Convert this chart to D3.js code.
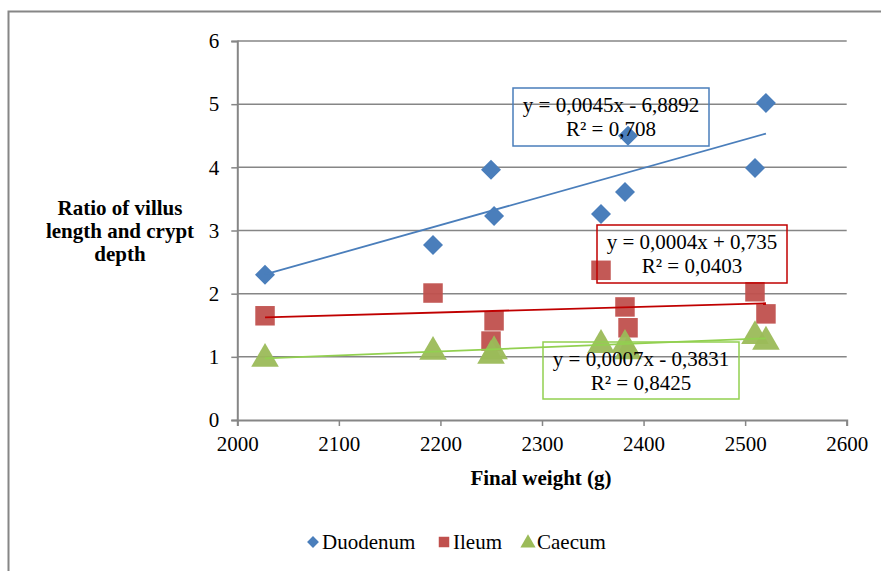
<!DOCTYPE html>
<html><head><meta charset="utf-8">
<script src="https://cdn.jsdelivr.net/npm/d3@7"></script>
<style>body{margin:0;background:#fff}svg{display:block}svg text{font-family:"Liberation Serif","Times New Roman",serif}</style>
</head><body><svg id="c" width="881" height="571"></svg>
<script>
const xTicks = [2000, 2100, 2200, 2300, 2400, 2500, 2600];
const yTicks = [0, 1, 2, 3, 4, 5, 6];
const weights = [2027.3, 2192.7, 2249.8, 2252.8, 2358.1, 2381.7, 2384.7, 2509.7, 2520.5];
const duodenum = [2.30, 2.77, 3.96, 3.23, 3.26, 3.61, 4.50, 3.99, 5.02];
const ileumX = [2027.3, 2192.7, 2252.8, 2249.8, 2358.1, 2381.7, 2384.7, 2509.7, 2520.5];
const ileum = [1.65, 2.01, 1.57, 1.25, 2.37, 1.79, 1.46, 2.03, 1.68];
const caecum = [1.00, 1.11, 1.05, 1.12, 1.22, 1.22, 1.12, 1.36, 1.27];
const seriesNames = ["Duodenum", "Ileum", "Caecum"];
const equations = [["y = 0,0045x - 6,8892", "R² = 0,708"], ["y = 0,0004x + 0,735", "R² = 0,0403"], ["y = 0,0007x - 0,3831", "R² = 0,8425"]];

const FS = 21;
const FF = "'Liberation Serif', 'Times New Roman', serif";
const svg = d3.select("#c");
const x = d3.scaleLinear().domain([2000, 2600]).range([237.3, 846.7]);
const y = d3.scaleLinear().domain([0, 6]).range([420, 41]);

svg.append("rect").attr("x", 8.5).attr("y", 11.5).attr("width", 900).attr("height", 600)
  .attr("fill", "none").attr("stroke", "#868686").attr("stroke-width", 2);

// gridlines
svg.append("g").selectAll("line").data(yTicks.slice(1)).join("line")
  .attr("x1", x(2000)).attr("x2", x(2600)).attr("y1", d => y(d)).attr("y2", d => y(d))
  .attr("stroke", "#868686").attr("stroke-width", 1.5);

const yAxis = svg.append("g").attr("transform", `translate(${x(2000)},0)`)
  .call(d3.axisLeft(y).tickValues(yTicks).tickSize(6).tickPadding(12).tickFormat(d3.format("d")));
const xAxis = svg.append("g").attr("transform", `translate(0,${y(0)})`)
  .call(d3.axisBottom(x).tickValues(xTicks).tickSize(6).tickPadding(10).tickFormat(d3.format("d")));
[yAxis, xAxis].forEach(a => {
  a.attr("font-family", FF).attr("font-size", FS);
  a.select(".domain").attr("stroke", "#868686").attr("stroke-width", 2);
  a.selectAll(".tick line").attr("stroke", "#868686").attr("stroke-width", 1.5);
  a.selectAll("text").style("font-family", FF).attr("font-size", FS).attr("fill", "#000");
});

const cols = ["#4A7EBB", "#C0504D", "#9BBB59"];
const lineCols = ["#4A7EBB", "#C00000", "#92D050"];
const data = [
  weights.map((w, i) => [w, duodenum[i]]),
  ileumX.map((w, i) => [w, ileum[i]]),
  weights.map((w, i) => [w, caecum[i]])
];

function fit(pts) {
  const mx = d3.mean(pts, p => p[0]), my = d3.mean(pts, p => p[1]);
  let sxy = 0, sxx = 0;
  pts.forEach(p => { sxy += (p[0] - mx) * (p[1] - my); sxx += (p[0] - mx) ** 2; });
  const b = sxy / sxx; return [b, my - b * mx];
}

data.forEach((pts, k) => {
  const sym = d3.symbol().type(k === 2 ? d3.symbolTriangle : d3.symbolSquare)
    .size(k === 0 ? 200 : k === 1 ? 380 : 330);
  svg.append("g").selectAll("path").data(pts).join("path")
    .attr("d", sym)
    .attr("transform", d => `translate(${x(d[0])},${y(d[1]) + (k === 2 ? 2 : 0)})${k === 0 ? " rotate(45)" : ""}`)
    .attr("fill", cols[k]).attr("opacity", k === 0 ? 1 : 0.95);
});
data.forEach((pts, k) => {
  const [b, a] = fit(pts);
  const x0 = d3.min(pts, p => p[0]), x1 = d3.max(pts, p => p[0]);
  svg.append("line").attr("x1", x(x0)).attr("x2", x(x1))
    .attr("y1", y(a + b * x0)).attr("y2", y(a + b * x1))
    .attr("stroke", lineCols[k]).attr("stroke-width", 1.8);
});

// equation boxes
const boxes = [[513, 88, 196, 58], [597, 225, 190, 58], [543, 342, 196, 57]];
boxes.forEach((bx, k) => {
  svg.append("rect").attr("x", bx[0]).attr("y", bx[1]).attr("width", bx[2]).attr("height", bx[3])
    .attr("fill", "none").attr("stroke", lineCols[k]).attr("stroke-width", 1.5);
  equations[k].forEach((t, i) => {
    svg.append("text").attr("x", bx[0] + bx[2] / 2).attr("y", bx[1] + 24 + i * 24)
      .attr("text-anchor", "middle").attr("font-size", FS).style("font-family", FF).text(t);
  });
});

// axis titles
const yt = svg.append("text").attr("text-anchor", "middle").attr("font-weight", "bold")
  .attr("font-size", FS).style("font-family", FF);
["Ratio of villus", "length and crypt", "depth"].forEach((t, i) =>
  yt.append("tspan").attr("x", 120).attr("y", 215 + i * 23).text(t));
svg.append("text").attr("x", 541).attr("y", 485).attr("text-anchor", "middle")
  .attr("font-weight", "bold").attr("font-size", FS).style("font-family", FF).text("Final weight (g)");

// legend
const legX = [313, 444, 528];
seriesNames.forEach((n, k) => {
  const s = d3.symbol().type(k === 2 ? d3.symbolTriangle : d3.symbolSquare).size(k === 0 ? 70 : k === 1 ? 110 : 100);
  svg.append("path").attr("d", s).attr("fill", cols[k])
    .attr("transform", `translate(${legX[k]},${542 + (k === 2 ? 1 : 0)})${k === 0 ? " rotate(45)" : ""}`);
  svg.append("text").attr("x", legX[k] + 9).attr("y", 549).attr("font-size", FS).style("font-family", FF).text(n);
});
</script></body></html>
